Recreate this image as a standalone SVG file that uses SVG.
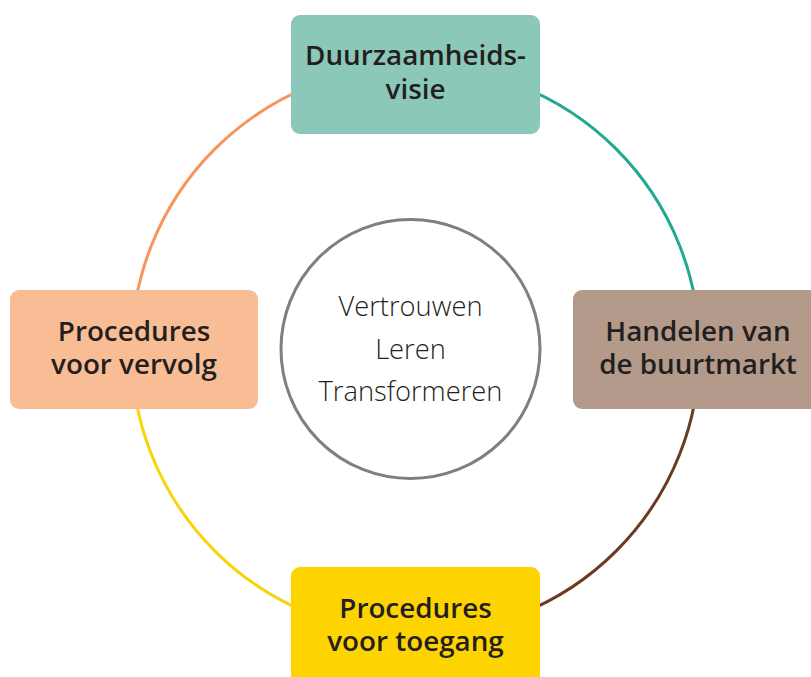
<svg xmlns="http://www.w3.org/2000/svg" width="811" height="677" viewBox="0 0 811 677">
<style>
.arc{fill:none;stroke-width:3}
.box{stroke:none}
.lbl{font-family:"Open Sans","Liberation Sans",sans-serif;font-weight:600;font-size:27.8px;fill:#231f20;text-anchor:middle}
.ctr{font-family:"Open Sans","Liberation Sans",sans-serif;font-weight:300;font-size:27.3px;fill:#231f20;text-anchor:middle}
</style>
<rect width="811" height="677" fill="#ffffff"/>
<g id="connectors">
<path class="arc" stroke="#F7955E" d="M131.5,350 A284,284 0 0 1 415.5,66"/>
<path class="arc" stroke="#22A893" d="M415.5,66 A284,284 0 0 1 699.5,350"/>
<path class="arc" stroke="#6A3A22" d="M699.5,350 A284,284 0 0 1 415.5,634"/>
<path class="arc" stroke="#F7D50A" d="M415.5,634 A284,284 0 0 1 131.5,350"/>
</g>
<g id="center">
<circle cx="410.5" cy="349" r="129.5" fill="#ffffff" stroke="#7f7f7f" stroke-width="3"/>
<text class="ctr"><tspan x="410.5" y="316">Vertrouwen</tspan><tspan x="410.5" y="358.5">Leren</tspan><tspan x="410.5" y="401">Transformeren</tspan></text>
</g>
<g id="node-top">
<rect class="box" x="291" y="15" width="249" height="119" rx="9" fill="#8CC8B9"/>
<text class="lbl"><tspan x="415.5" y="65">Duurzaamheids-</tspan><tspan x="415.5" y="99">visie</tspan></text>
</g>
<g id="node-right">
<rect class="box" x="573" y="290" width="249" height="119" rx="9" fill="#B39A8A"/>
<text class="lbl"><tspan x="698" y="341">Handelen van</tspan><tspan x="698" y="374">de buurtmarkt</tspan></text>
</g>
<g id="node-left">
<rect class="box" x="10" y="290" width="248" height="119" rx="9" fill="#F9BD96"/>
<text class="lbl"><tspan x="134" y="341">Procedures</tspan><tspan x="134" y="374">voor vervolg</tspan></text>
</g>
<g id="node-bottom">
<rect class="box" x="291" y="567" width="249" height="119" rx="9" fill="#FDD300"/>
<text class="lbl"><tspan x="415.5" y="618">Procedures</tspan><tspan x="415.5" y="651">voor toegang</tspan></text>
</g>
</svg>
